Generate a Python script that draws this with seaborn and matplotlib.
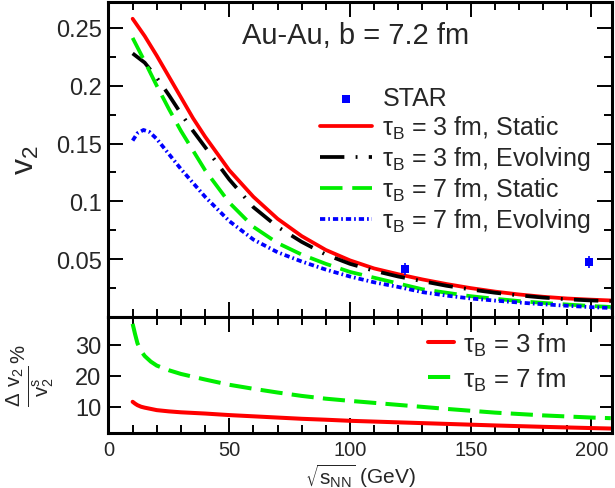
import numpy as np
import pandas as pd
import seaborn as sns
import matplotlib.pyplot as plt
from matplotlib.ticker import MultipleLocator, FixedLocator

# collision energy sqrt(s_NN) in GeV
sqrt_s = [10, 15, 20, 25, 30, 35, 40, 50, 60, 70, 80, 90, 100, 110, 120,
          130, 140, 150, 160, 170, 180, 190, 200, 208]
v2_tau3_static = [0.258, 0.243, 0.226, 0.208, 0.190, 0.172, 0.156, 0.127, 0.104, 0.085,
                  0.070, 0.058, 0.049, 0.042, 0.037, 0.0325, 0.0285, 0.0250, 0.0220,
                  0.0195, 0.0175, 0.0160, 0.0150, 0.0143]
v2_tau3_evolving = [0.228, 0.220, 0.207, 0.192, 0.176, 0.161, 0.147, 0.119, 0.095, 0.078,
                    0.065, 0.054, 0.046, 0.040, 0.035, 0.031, 0.027, 0.0238, 0.0210,
                    0.0187, 0.0168, 0.0153, 0.0143, 0.0137]
v2_tau7_static = [0.2414, 0.221, 0.200, 0.180, 0.161, 0.144, 0.127, 0.099, 0.078, 0.064,
                  0.054, 0.046, 0.039, 0.034, 0.029, 0.0240, 0.021, 0.018, 0.0158,
                  0.0138, 0.0122, 0.0108, 0.0095, 0.0087]

sqrt_s_blue = [10, 12, 14.5, 17, 20, 25, 30, 35, 40, 50, 60, 70, 80, 90, 100, 110, 120,
               130, 140, 150, 160, 170, 180, 190, 200, 208]
v2_tau7_evolving = [0.1526, 0.159, 0.1618, 0.160, 0.154, 0.141, 0.128, 0.116, 0.104, 0.083,
                    0.067, 0.056, 0.048, 0.041, 0.035, 0.030, 0.026, 0.0215, 0.0185,
                    0.016, 0.0142, 0.0125, 0.011, 0.0097, 0.0085, 0.0078]

star_s = [122.6, 199]
star_v2 = [0.0417, 0.0475]
star_err = [0.005, 0.005]

# relative difference (percent), lower panel
sqrt_s_low = [10, 11, 12, 13.5, 15, 17.5, 20, 25, 30, 40, 50, 60, 70, 80, 90, 100,
              120, 140, 160, 180, 200, 208]
dv2_tau3 = [11.6, 11.0, 10.5, 10.0, 9.7, 9.3, 8.9, 8.5, 8.2, 7.8, 7.3, 6.9, 6.5, 6.1,
            5.8, 5.45, 4.95, 4.45, 3.95, 3.5, 3.1, 2.95]
dv2_tau7 = [36.8, 33.5, 30.5, 28.0, 26.4, 24.6, 23.3, 21.8, 20.6, 18.8, 17.1, 15.8, 14.6,
            13.5, 12.6, 11.9, 10.6, 9.3, 8.1, 7.2, 6.5, 6.3]

sns.set_style('ticks')
plt.rcParams['font.family'] = ['Liberation Sans', 'DejaVu Sans']
plt.rcParams['mathtext.default'] = 'regular'
plt.rcParams['axes.linewidth'] = 2.2

RED, BLACK, GREEN, BLUE = '#ff0000', '#000000', '#00ee00', '#0000ff'

fig = plt.figure(figsize=(6.15, 4.89), dpi=100)
ax1 = fig.add_axes([0.1764, 0.3497, 0.8187, 0.6442])
ax2 = fig.add_axes([0.1764, 0.1118, 0.8187, 0.2378], sharex=ax1)

# upper panel
sns.scatterplot(x=star_s, y=star_v2, ax=ax1, marker='s', color=BLUE, s=40,
                linewidth=0, label='STAR', zorder=6)
ax1.errorbar(star_s, star_v2, yerr=star_err, fmt='none', ecolor=BLUE, elinewidth=1.2,
             capsize=0, zorder=5)
sns.lineplot(x=sqrt_s, y=v2_tau3_static, ax=ax1, color=RED, lw=2.7,
             label=r'τ$_B$ = 3 fm, Static')
sns.lineplot(x=sqrt_s, y=v2_tau3_evolving, ax=ax1, color=BLACK, lw=2.7,
             linestyle=(0, (6.5, 3, 0.5, 3)), label=r'τ$_B$ = 3 fm, Evolving')
sns.lineplot(x=sqrt_s, y=v2_tau7_static, ax=ax1, color=GREEN, lw=2.7,
             linestyle=(0, (6, 2.6)), label=r'τ$_B$ = 7 fm, Static')
sns.lineplot(x=sqrt_s_blue, y=v2_tau7_evolving, ax=ax1, color=BLUE, lw=2.7,
             linestyle=(0, (1.4, 0.8, 0.45, 0.8)), label=r'τ$_B$ = 7 fm, Evolving')

ax1.set_xlim(0, 208.5)
ax1.set_ylim(0, 0.2725)
ax1.yaxis.set_major_locator(FixedLocator([0.05, 0.1, 0.15, 0.2, 0.25]))
ax1.set_yticklabels(['0.05', '0.1', '0.15', '0.2', '0.25'])
ax1.yaxis.set_minor_locator(MultipleLocator(0.025))
ax1.tick_params(axis='x', labelbottom=False)
ax1.set_ylabel('v$_2$', fontsize=23)
ax1.yaxis.set_label_coords(-0.135, 0.5)
ax1.set_xlabel('')
ax1.text(0.265, 0.895, 'Au-Au, b = 7.2 fm', transform=ax1.transAxes, fontsize=21,
         va='center', ha='left')
ax1.legend(loc='upper left', bbox_to_anchor=(0.42, 0.733), frameon=False, fontsize=18,
           handlelength=2.1, handletextpad=0.4, labelspacing=0.14, borderpad=0,
           borderaxespad=0)

# lower panel
sns.lineplot(x=sqrt_s_low, y=dv2_tau3, ax=ax2, color=RED, lw=2.9, label=r'τ$_B$ = 3 fm')
sns.lineplot(x=sqrt_s_low, y=dv2_tau7, ax=ax2, color=GREEN, lw=2.9,
             linestyle=(0, (5.5, 2.3)), label=r'τ$_B$ = 7 fm')
ax2.set_ylim(1.4, 39)
ax2.yaxis.set_major_locator(FixedLocator([10, 20, 30]))
ax2.xaxis.set_major_locator(MultipleLocator(50))
ax2.xaxis.set_minor_locator(MultipleLocator(10))
ax2.set_xlabel(r'$\sqrt{s_{NN}}$ (GeV)', fontsize=15, labelpad=1)
ax2.set_ylabel(r'$\frac{\Delta\ v_2}{v_2^s}^{\%}$', fontsize=21)
ax2.yaxis.set_label_coords(-0.105, 0.5)
ax2.legend(loc='upper left', bbox_to_anchor=(0.635, 0.885), frameon=False, fontsize=18.5,
           handlelength=1.0, handletextpad=0.35, labelspacing=0.3, borderpad=0,
           borderaxespad=0)

for ax in (ax1, ax2):
    ax.tick_params(which='both', direction='in', top=True, right=True, width=1.4,
                   color='black')
    ax.tick_params(which='major', length=11)
    ax.tick_params(which='minor', length=6)
    ax.tick_params(axis='x', labelsize=14.5, pad=5)
    ax.tick_params(axis='y', labelsize=17, pad=5)
    for sp in ax.spines.values():
        sp.set_color('black')
ax2.tick_params(axis='y', which='major', length=9)
ax2.tick_params(axis='y', which='minor', left=False, right=False)

fig.savefig('out.png', dpi=100)
